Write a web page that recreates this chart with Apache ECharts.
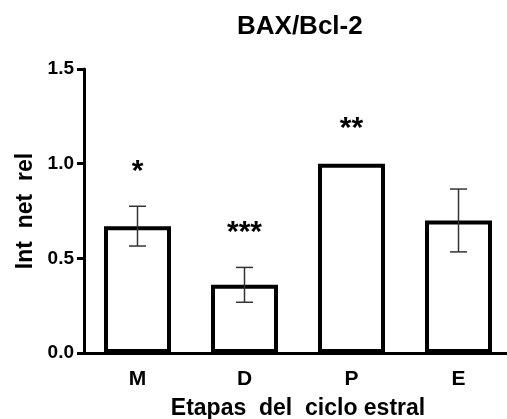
<!DOCTYPE html>
<html>
<head>
<meta charset="utf-8">
<script src="https://cdn.jsdelivr.net/npm/echarts@6/dist/echarts.min.js"></script>
<style>
  html, body { margin: 0; padding: 0; background: #fff; }
  #chart { width: 507px; height: 419px; }
</style>
</head>
<body>
<div id="chart"></div>
<script>
const stages = ['M', 'D', 'P', 'E']
const means = [0.67, 0.36, 1.0, 0.70]
const sem = [0.105, 0.092, 0, 0.166]
const stars = ['*', '***', '**', '']
const yTicks = [0, 0.5, 1.0, 1.5]

const FONT = 'Liberation Sans, Arial, sans-serif'

const chart = echarts.init(document.getElementById('chart'))

chart.setOption({
  animation: false,
  title: {
    text: 'BAX/Bcl-2',
    left: 232,
    top: 9,
    textStyle: { fontSize: 26, fontWeight: 'bold', color: '#000', fontFamily: FONT },
  },
  grid: { left: 84, top: 69, width: 428, height: 284, containLabel: false, outerBoundsMode: 'none' },
  xAxis: {
    type: 'category',
    data: stages,
    name: 'Etapas  del  ciclo estral',
    nameLocation: 'middle',
    nameGap: 44,
    nameTextStyle: { fontSize: 23, fontWeight: 'bold', color: '#000', fontFamily: FONT },
    axisLine: { lineStyle: { color: '#000', width: 3 } },
    axisTick: { alignWithLabel: true, length: 10, lineStyle: { color: '#000', width: 3 } },
    axisLabel: { fontSize: 21, fontWeight: 'bold', color: '#000', fontFamily: FONT, margin: 16 },
  },
  yAxis: {
    type: 'value',
    min: yTicks[0],
    max: yTicks[yTicks.length - 1],
    interval: 0.5,
    name: 'Int  net  rel',
    nameLocation: 'middle',
    nameRotate: 90,
    nameGap: 47,
    nameTextStyle: { fontSize: 23, fontWeight: 'bold', color: '#000', fontFamily: FONT },
    axisLine: { show: true, lineStyle: { color: '#000', width: 3 } },
    axisTick: { show: true, length: 7, lineStyle: { color: '#000', width: 3 } },
    axisLabel: {
      fontSize: 19, fontWeight: 'bold', color: '#000', fontFamily: FONT, margin: 10,
      formatter: (v) => v.toFixed(1),
    },
    splitLine: { show: false },
  },
  series: [
    {
      type: 'bar',
      data: means,
      barWidth: 67,
      itemStyle: { color: '#fff', borderColor: '#000', borderWidth: 4 },
    },
    {
      type: 'custom',
      data: stages.map((s, i) => [i, means[i] - sem[i], means[i] + sem[i]]),
      z: 5,
      renderItem: (params, api) => {
        const i = api.value(0)
        const lo = api.coord([i, api.value(1)])
        const hi = api.coord([i, api.value(2)])
        const x = hi[0]
        const cap = 8.5
        const children = []
        if (sem[i] > 0) {
          const ls = { stroke: '#333', lineWidth: 1.5 }
          children.push(
            { type: 'line', shape: { x1: x, y1: hi[1], x2: x, y2: lo[1] }, style: ls },
            { type: 'line', shape: { x1: x - cap, y1: hi[1], x2: x + cap, y2: hi[1] }, style: ls },
            { type: 'line', shape: { x1: x - cap, y1: lo[1], x2: x + cap, y2: lo[1] }, style: ls },
          )
        }
        if (stars[i]) {
          children.push({
            type: 'text',
            style: {
              text: stars[i], x: x, y: hi[1] - 35,
              fill: '#000', fontSize: 30, fontWeight: 'bold', fontFamily: FONT,
              align: 'center', verticalAlign: 'middle',
            },
          })
        }
        return { type: 'group', children }
      },
    },
  ],
})
</script>
</body>
</html>
